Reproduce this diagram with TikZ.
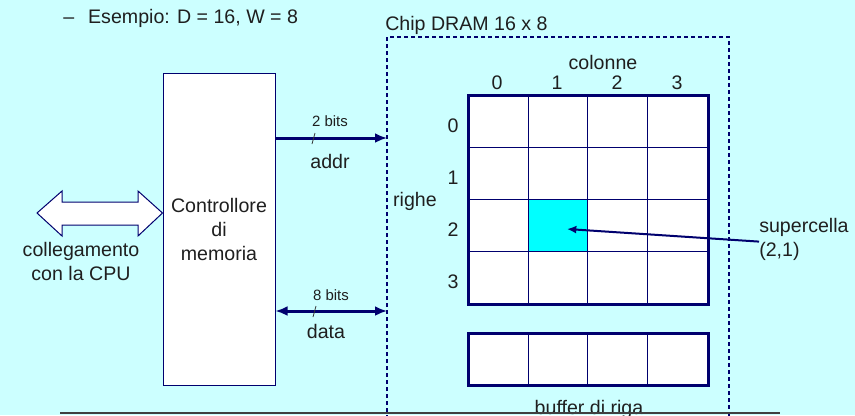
\documentclass[tikz,border=0pt]{standalone}
\usepackage{fontspec}
\setmainfont{Liberation Sans}
\usepackage{xcolor}
\usetikzlibrary{arrows.meta}
\definecolor{sfondo}{RGB}{204,255,255}
\definecolor{blu}{RGB}{0,0,110}
\definecolor{ciano}{RGB}{0,255,255}

\begin{document}
\begin{tikzpicture}[x=0.75pt,y=-0.75pt,
	testo/.style={font=\fontsize{14.7}{18}\selectfont, text=black!88, inner sep=0pt},
	piccolo/.style={font=\fontsize{11.2}{13}\selectfont, text=black!88, inner sep=0pt},
	bus/.style={blu, line width=2.25pt},
	cella/.style={blu, line width=0.75pt}]
		% фон
		\fill[sfondo] (0,0) rectangle (855,415);
		\useasboundingbox (0,0) rectangle (855,415);
		% заголовки
		\node [testo, anchor=base west] (titolo) at (63,23) {–\hspace{10.5pt}Esempio: D = 16, W = 8};
		\node [testo, anchor=base west] (chip) at (385,30) {Chip DRAM 16 x 8};
		% чип
		\draw [blu, line width=0.8pt, dash pattern=on 3pt off 2.25pt] (387,440) -- (387,37) -- (729,37) -- (729,440);
		\coordinate (addrin) at (387,138);
		\coordinate (datain) at (387,311);
		% контроллер
		\node [testo, draw=blu, fill=white, line width=0.75pt, minimum width=84pt, minimum height=234pt, align=center] (ctrl) at (219,229) {Controllore\\di\\memoria};
		% связь с CPU
		\draw [blu, fill=white, line width=0.75pt] (ctrl.west |- 0,213) -- (138,191) -- (138,202) -- (62,202) -- (62,191) -- (37,213) -- (62,236) -- (62,225) -- (138,225) -- (138,236) -- cycle;
		\node [testo, align=center, anchor=base] (cpu) at (81,280) {collegamento\\con la CPU};
		% шины
		\draw [bus, -{Latex[length=9pt,width=7.5pt]}] (ctrl.east |- addrin) -- (addrin);
		\draw [bus, {Latex[length=9pt,width=7.5pt]}-{Latex[length=9pt,width=7.5pt]}] (ctrl.east |- datain) -- (datain);
		\draw [black!80, line width=0.6pt] (312,144) -- (315,133);
		\draw [black!80, line width=0.6pt] (313,317) -- (316,306);
		\node [piccolo, anchor=base] (bitsa) at (330,126) {2 bits};
		\node [testo, anchor=base] (addr) at (330,168) {addr};
		\node [piccolo, anchor=base] (bitsd) at (331,300) {8 bits};
		\node [testo, anchor=base] (data) at (326,338) {data};
		% матрица
		\fill[white] (468,95) rectangle (708,304);
		\fill[ciano] (528,199) rectangle (587,251);
		\foreach \x in {528,587,647} \draw [cella] (\x,95) -- (\x,304);
		\foreach \y in {147,199,251} \draw [cella] (468,\y) -- (708,\y);
		\draw [blu, line width=2.25pt] (468,95) rectangle (708,304);
		% буфер
		\fill[white] (468,333) rectangle (708,385);
		\foreach \x in {528,587,647} \draw [cella] (\x,333) -- (\x,385);
		\draw [blu, line width=2.25pt] (468,333) rectangle (708,385);
		% подписи
		\node [testo, anchor=base] (colonne) at (603,69) {colonne};
		\foreach \i/\x in {0/497,1/557,2/617,3/677}
			\node [testo, anchor=base] (col\i) at (\x,89) {\i};
		\foreach \i/\y in {0/132,1/184,2/236,3/288}
			\node [testo, anchor=base] (riga\i) at (453,\y) {\i};
		\node [testo, anchor=base] (righe) at (415,206) {righe};
		\node [testo, anchor=base] (buffer) at (589,414) {buffer di riga};
		\node [testo, anchor=base west, align=left] (super) at (759,256) {supercella\\(2,1)};
		\coordinate (centro) at (567,229);
		\draw [blu, line width=1.5pt, -{Latex[length=7pt,width=6pt]}] ([yshift=-2pt]super.west) -- (centro);
		% линия
		\draw [black!75, line width=1.5pt] (60,413) -- (780,413);
		\end{tikzpicture}
\end{document}
